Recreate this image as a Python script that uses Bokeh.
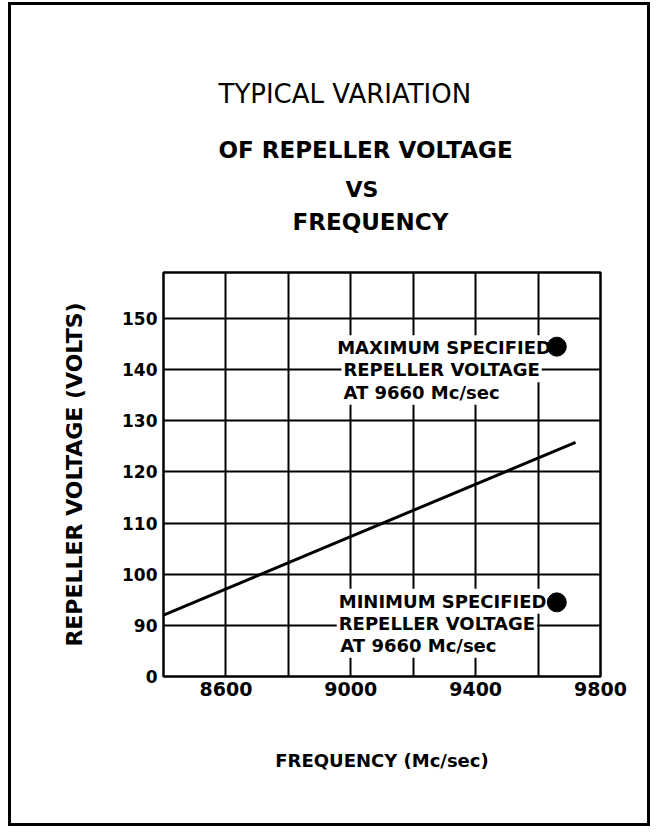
from bokeh.plotting import figure
from bokeh.models import FixedTicker, Title, Range1d
from bokeh.core.properties import value
from bokeh.embed import file_html
from bokeh.resources import INLINE

# ---- data ----
line_freq = [8400, 9720]          # Mc/sec
line_volt = [92.0, 125.8]         # volts
spec_freq = [9660, 9660]
spec_volt = [144.5, 94.5]         # max / min specified
x_grid = [8400, 8600, 8800, 9000, 9200, 9400, 9600, 9800]
x_ticks = [8600, 9000, 9400, 9800]
y_ticks = [80, 90, 100, 110, 120, 130, 140, 150]
y_labels = {80: "0"}
max_text = ["MAXIMUM SPECIFIED", "REPELLER VOLTAGE", "AT 9660 Mc/sec"]
min_text = ["MINIMUM SPECIFIED", "REPELLER VOLTAGE", "AT 9660 Mc/sec"]
max_text_x = [8950, 8970, 8970]
max_text_y = [144.3, 140.0, 135.6]
min_text_x = [8955, 8955, 8960]
min_text_y = [94.7, 90.4, 86.1]

FONT = "DejaVu Sans"

p = figure(width=642, height=824, output_backend="svg", toolbar_location=None,
           title=None,
           x_range=Range1d(8400, 9800), y_range=Range1d(80, 159),
           min_border_left=152, min_border_right=53,
           min_border_top=267, min_border_bottom=153,
           styles={"border": "3px solid black", "margin-left": "8px", "margin-top": "2px"})
p.background_fill_color = "white"
p.border_fill_color = "white"
p.outline_line_color = "black"
p.outline_line_width = 2.5

# grid
p.xgrid.ticker = FixedTicker(ticks=x_grid)
p.ygrid.ticker = FixedTicker(ticks=y_ticks)
for g in (p.xgrid, p.ygrid):
    g.grid_line_color = "black"
    g.grid_line_width = 2
    g.grid_line_alpha = 1.0

# axes
p.xaxis.ticker = FixedTicker(ticks=x_ticks)
p.yaxis.ticker = FixedTicker(ticks=y_ticks)
p.yaxis.major_label_overrides = y_labels
for ax in (p.xaxis, p.yaxis):
    ax.axis_line_color = None
    ax.major_tick_line_color = None
    ax.minor_tick_line_color = None
    ax.major_tick_out = 0
    ax.major_tick_in = 0
    ax.major_label_text_font = FONT
    ax.major_label_text_font_style = "bold"
    ax.major_label_text_color = "black"
    ax.axis_label_text_font = FONT
    ax.axis_label_text_font_style = "bold"
    ax.axis_label_text_color = "black"

p.xaxis.major_label_text_font_size = "19px"
p.xaxis.major_label_standoff = 5
p.xaxis.axis_label = "FREQUENCY (Mc/sec)"
p.xaxis.axis_label_text_font_size = "18px"
p.xaxis.axis_label_standoff = 51

p.yaxis.major_label_text_font_size = "17px"
p.yaxis.major_label_standoff = 6
p.yaxis.axis_label = "REPELLER VOLTAGE (VOLTS)"
p.yaxis.axis_label_text_font_size = "22px"
p.yaxis.axis_label_standoff = 32


def spacer(px):
    return Title(text=" ", text_font_size="1px", standoff=px)


def head(text, size, left, style="bold"):
    return Title(text=text, text_font=FONT, text_font_style=style,
                 text_font_size=size, text_color="black",
                 align="left", offset=left, standoff=0)


# titles, added from the frame outwards
p.add_layout(spacer(35), "above")
p.add_layout(head("FREQUENCY", "23px", 129), "above")
p.add_layout(spacer(2), "above")
p.add_layout(head("VS", "22px", 182), "above")
p.add_layout(spacer(9), "above")
p.add_layout(head("OF REPELLER VOLTAGE", "23px", 55), "above")
p.add_layout(spacer(23), "above")
p.add_layout(head("TYPICAL VARIATION", "26px", 55, style="normal"), "above")

# data
p.line(line_freq, line_volt, line_color="black", line_width=3)

for xs, ys, ts in ((max_text_x, max_text_y, max_text), (min_text_x, min_text_y, min_text)):
    p.text(x=xs, y=ys, text=ts, text_font=value(FONT), text_font_style="bold",
           text_font_size="18px", text_color="black", text_align="left",
           text_baseline="middle", background_fill_color="white", padding=2)

p.scatter(spec_freq, spec_volt, size=19, color="black")

open("out.html", "w").write(file_html(p, INLINE))
